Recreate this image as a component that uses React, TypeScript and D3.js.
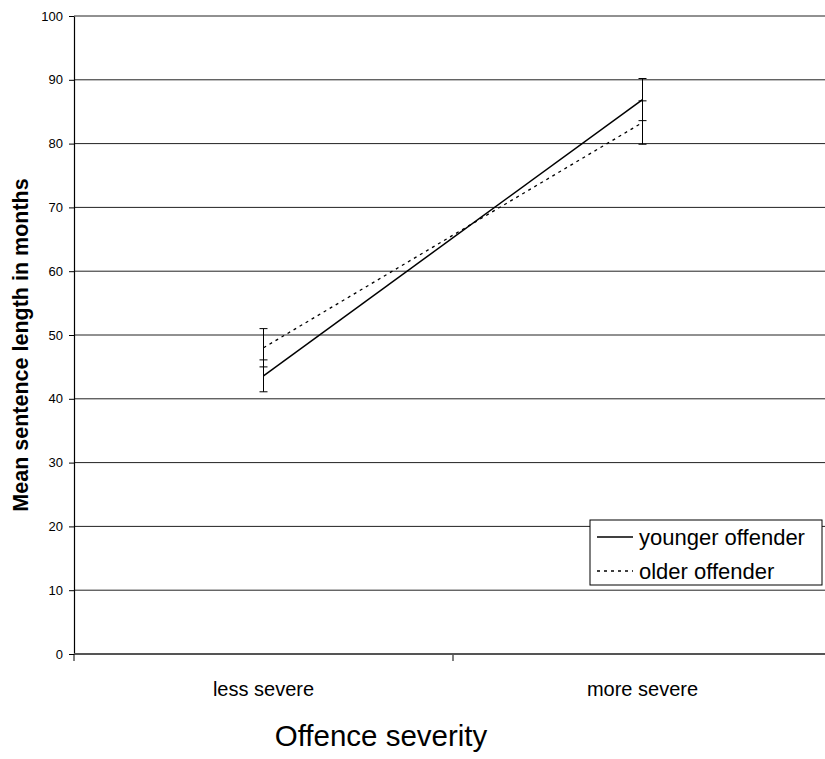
import React, { useRef, useEffect } from "react";
import * as d3 from "d3";

const categories = ["less severe", "more severe"];
const yTicks = [0, 10, 20, 30, 40, 50, 60, 70, 80, 90, 100];
const youngerMeans = [43.6, 86.9];
const youngerErr = [2.5, 3.3];
const olderMeans = [48.0, 83.3];
const olderErr = [3.0, 3.4];
const seriesNames = ["younger offender", "older offender"];

const W = 825;
const H = 759;

const App: React.FC = () => {
  const svgRef = useRef<SVGSVGElement>(null);

  useEffect(() => {
    if (!svgRef.current) return;
    const svg = d3.select(svgRef.current);
    svg.selectAll("*").remove();

    const left = 74;
    const right = 832;
    const top = 16;
    const bottom = 654;
    const font = "Arial, 'Liberation Sans', sans-serif";

    const x = d3.scaleBand<string>().domain(categories).range([left, right]);
    const y = d3.scaleLinear().domain([0, 100]).range([bottom, top]);
    const cx = (c: string) => (x(c) ?? 0) + x.bandwidth() / 2;

    // gridlines
    svg
      .append("g")
      .selectAll("line")
      .data(yTicks.filter((t) => t > 0))
      .join("line")
      .attr("x1", left)
      .attr("x2", right)
      .attr("y1", (d) => y(d))
      .attr("y2", (d) => y(d))
      .attr("stroke", "#222")
      .attr("stroke-width", 1);

    // y axis
    const yAxis = d3.axisLeft(y).tickValues(yTicks).tickSize(5).tickSizeOuter(0);
    const gy = svg.append("g").attr("transform", `translate(${left},0)`).call(yAxis);
    gy.select(".domain").attr("stroke", "#000").attr("stroke-width", 1.2);
    gy.selectAll(".tick line").attr("stroke", "#000");
    gy.selectAll(".tick text")
      .attr("font-family", font)
      .attr("font-size", 13)
      .attr("fill", "#000")
      .attr("x", -11);

    // x axis
    const gx = svg.append("g").attr("transform", `translate(0,${bottom})`);
    gx.append("line")
      .attr("x1", left)
      .attr("x2", right)
      .attr("stroke", "#555")
      .attr("stroke-width", 2);
    gx.append("line")
      .attr("x1", left + x.bandwidth())
      .attr("x2", left + x.bandwidth())
      .attr("y1", 0)
      .attr("y2", 7)
      .attr("stroke", "#555")
      .attr("stroke-width", 1.5);
    gx.append("line")
      .attr("x1", left)
      .attr("x2", left)
      .attr("y1", 0)
      .attr("y2", 7)
      .attr("stroke", "#000");
    gx.selectAll("text")
      .data(categories)
      .join("text")
      .attr("x", (d) => cx(d))
      .attr("y", 42)
      .attr("text-anchor", "middle")
      .attr("font-family", font)
      .attr("font-size", 20)
      .text((d) => d);

    // axis titles
    svg
      .append("text")
      .attr("transform", `translate(28,${(top + bottom) / 2 + 10}) rotate(-90)`)
      .attr("text-anchor", "middle")
      .attr("font-family", font)
      .attr("font-size", 21.5)
      .attr("font-weight", "bold")
      .text("Mean sentence length in months");

    svg
      .append("text")
      .attr("x", 381)
      .attr("y", 746)
      .attr("text-anchor", "middle")
      .attr("font-family", font)
      .attr("font-size", 29.5)
      .text("Offence severity");

    const series = [
      { name: seriesNames[0], means: youngerMeans, err: youngerErr, dash: null },
      { name: seriesNames[1], means: olderMeans, err: olderErr, dash: "3,4" },
    ];

    const line = d3
      .line<number>()
      .x((_, i) => cx(categories[i]))
      .y((d) => y(d));

    series.forEach((s) => {
      // error bars
      s.means.forEach((m, i) => {
        const px = cx(categories[i]);
        const g = svg.append("g").attr("stroke", "#000").attr("stroke-width", 1);
        g.append("line").attr("x1", px).attr("x2", px).attr("y1", y(m - s.err[i])).attr("y2", y(m + s.err[i]));
        [m - s.err[i], m + s.err[i]].forEach((v) => {
          g.append("line")
            .attr("x1", px - 4)
            .attr("x2", px + 4)
            .attr("y1", y(v))
            .attr("y2", y(v));
        });
      });
      svg
        .append("path")
        .datum(s.means)
        .attr("fill", "none")
        .attr("stroke", "#000")
        .attr("stroke-width", s.dash ? 1.3 : 1.5)
        .attr("stroke-dasharray", s.dash)
        .attr("d", line);
    });

    // legend
    const lg = svg.append("g").attr("transform", "translate(590,520)");
    lg.append("rect")
      .attr("width", 232)
      .attr("height", 65)
      .attr("fill", "#fff")
      .attr("stroke", "#000")
      .attr("stroke-width", 1);
    series.forEach((s, i) => {
      const ly = 17 + i * 34;
      lg.append("line")
        .attr("x1", 7)
        .attr("x2", 43)
        .attr("y1", ly)
        .attr("y2", ly)
        .attr("stroke", "#000")
        .attr("stroke-width", 1.3)
        .attr("stroke-dasharray", s.dash);
      lg.append("text")
        .attr("x", 49)
        .attr("y", ly + 8)
        .attr("font-family", font)
        .attr("font-size", 22)
        .text(s.name);
    });
  }, []);

  return (
    <div style={{ position: "absolute", left: 0, top: 0 }}>
      <svg ref={svgRef} width={W} height={H} style={{ display: "block", background: "#fff" }} />
    </div>
  );
};

export default App;
